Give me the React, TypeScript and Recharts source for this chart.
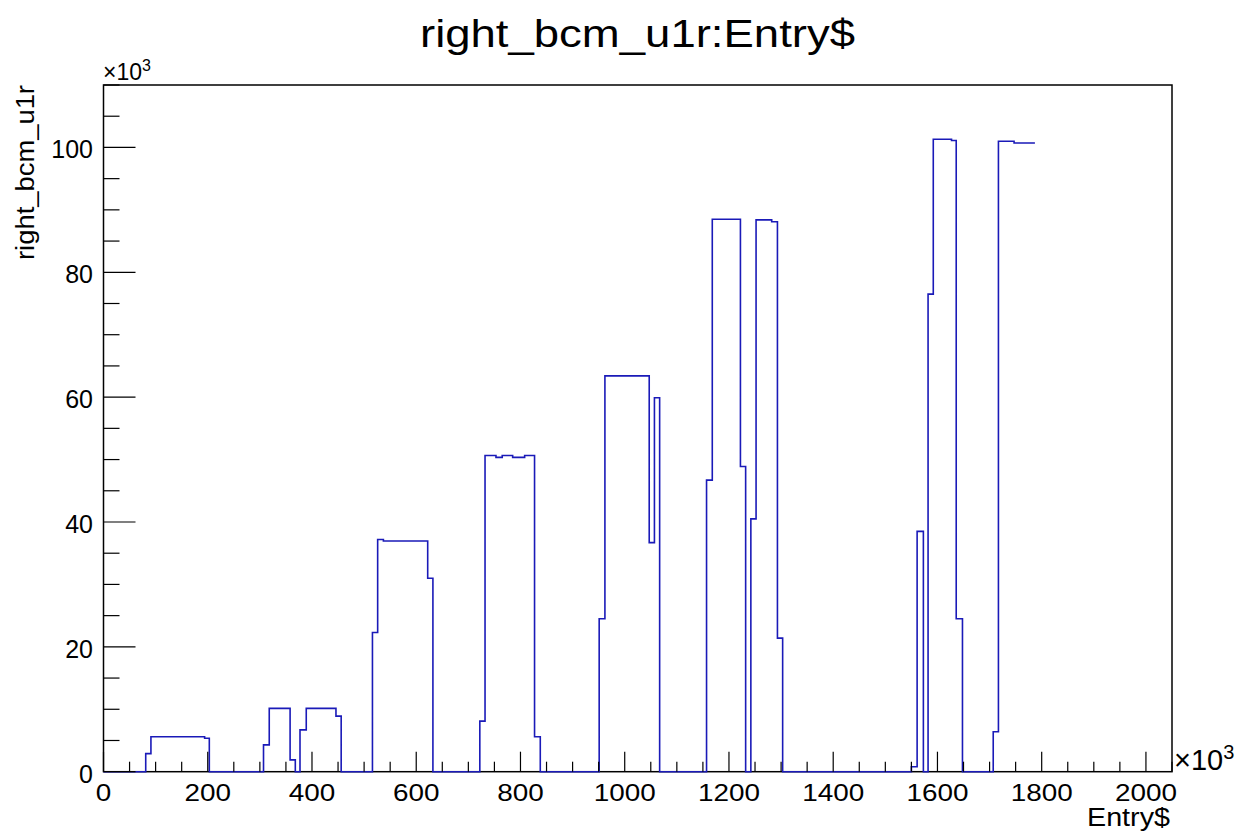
import React from 'react';
import { LineChart, Line, XAxis, YAxis } from 'recharts';

// step edges (Entry$, x10^3) and the level that starts at each edge (right_bcm_u1r, x10^3)
const entryX = [
  0, 81, 91, 194, 203, 307, 318, 358, 368, 377, 389, 446, 456,
  516, 526, 537, 622, 632, 722, 732, 753, 765, 785, 808, 827, 838,
  951, 962, 1047, 1057, 1067, 1157, 1168, 1222, 1232, 1242, 1252, 1282, 1293, 1303,
  1550, 1561, 1573, 1582, 1592, 1627, 1636, 1648, 1707, 1717, 1747, 1787,
];
const bcmValue = [
  0, 2.9, 5.6, 5.35, 0, 4.3, 10.15, 1.9, 0, 6.7, 10.15, 8.9, 0,
  22.3, 37.2, 36.95, 31.0, 0, 8.1, 50.65, 50.35, 50.65, 50.35, 50.65, 5.6, 0,
  24.5, 63.4, 36.7, 59.9, 0, 46.7, 88.5, 48.9, 0, 40.5, 88.4, 88.1, 21.4, 0,
  0.8, 38.5, 0, 76.5, 101.3, 101.1, 24.5, 0, 6.4, 101.0, 100.7, 100.7,
];

const xMajorTicks = [0, 200, 400, 600, 800, 1000, 1200, 1400, 1600, 1800, 2000];
const yMajorTicks = [0, 20, 40, 60, 80, 100];
const xDomain = [0, 2050];
const yDomain = [0, 110];
const xMinorStep = 50;
const yMinorStep = 5;

const data = entryX.map((x, i) => ({ x, y: bcmValue[i] }));

const W = 1239;
const H = 838;
const PL = 103.5;
const PR = 1172;
const PT = 85;
const PB = 771.7;
const FONT = '"Liberation Sans", Arial, Helvetica, sans-serif';

const xTicks = Array.from({ length: Math.floor(xDomain[1] / xMinorStep) + 1 }, (_, i) => i * xMinorStep);
const yTicks = Array.from({ length: Math.floor(yDomain[1] / yMinorStep) + 1 }, (_, i) => i * yMinorStep);

const XTick = (props: any) => {
  const { x, payload } = props;
  const v = payload.value;
  const major = xMajorTicks.includes(v);
  const label = String(v);
  return (
    <g>
      <line x1={x} x2={x} y1={PB} y2={PB - (major ? 20 : 10)} stroke="#000" strokeWidth={1.2} />
      {major && (
        <text x={x} y={800.7} textAnchor="middle" fontFamily={FONT} fontSize={23}
          textLength={label.length * 15.5} lengthAdjust="spacingAndGlyphs" fill="#000">
          {label}
        </text>
      )}
    </g>
  );
};

const YTick = (props: any) => {
  const { y, payload } = props;
  const v = payload.value;
  const major = yMajorTicks.includes(v);
  return (
    <g>
      <line x1={PL} x2={PL + (major ? 32 : 16)} y1={y} y2={y} stroke="#000" strokeWidth={1.2} />
      {major && (
        <text x={93} y={y + 11} textAnchor="end" fontFamily={FONT} fontSize={25} fill="#000">
          {v}
        </text>
      )}
    </g>
  );
};

export default function App() {
  return (
    <div style={{ position: 'relative', width: W, height: H, background: '#fff' }}>
      <style>{`body{margin:0;background:#fff}`}</style>
      {/* frame sits behind the chart so the blue baseline draws over it */}
      <svg width={W} height={H} style={{ position: 'absolute', left: 0, top: 0 }}>
        <rect x={PL} y={PT} width={PR - PL} height={PB - PT} fill="none" stroke="#000" strokeWidth={1.5} />
      </svg>
      <div style={{ position: 'absolute', left: 0, top: 0 }}>
        <LineChart width={W} height={H} data={data}
          margin={{ top: PT, right: W - PR, left: 0, bottom: 0 }}>
          <XAxis dataKey="x" type="number" domain={xDomain} ticks={xTicks} interval={0}
            height={H - PB} tick={XTick} tickLine={false} axisLine={false} />
          <YAxis type="number" domain={yDomain} ticks={yTicks} interval={0}
            width={PL} tick={YTick} tickLine={false} axisLine={false} />
          <Line type="stepAfter" dataKey="y" stroke="#1a1ab8" strokeWidth={1.6}
            dot={false} activeDot={false} isAnimationActive={false} />
        </LineChart>
      </div>
      <svg width={W} height={H} style={{ position: 'absolute', left: 0, top: 0, pointerEvents: 'none' }}>
        <text x={637.5} y={47} textAnchor="middle" fontFamily={FONT} fontSize={38}
          textLength={435} lengthAdjust="spacingAndGlyphs" fill="#000">
          right_bcm_u1r:Entry$
        </text>
        <text x={1170} y={826} textAnchor="end" fontFamily={FONT} fontSize={25}
          textLength={83} lengthAdjust="spacingAndGlyphs" fill="#000">
          Entry$
        </text>
        <text transform="translate(33.5,85) rotate(-90)" textAnchor="end" fontFamily={FONT}
          fontSize={25} textLength={175} lengthAdjust="spacingAndGlyphs" fill="#000">
          right_bcm_u1r
        </text>
        <text x={103} y={80} fontFamily={FONT} fontSize={23} fill="#000">
          ×10<tspan fontSize={16} dy={-9}>3</tspan>
        </text>
        <text x={1174} y={770} fontFamily={FONT} fontSize={29} fill="#000">
          ×10<tspan fontSize={20} dy={-11}>3</tspan>
        </text>
      </svg>
    </div>
  );
}
